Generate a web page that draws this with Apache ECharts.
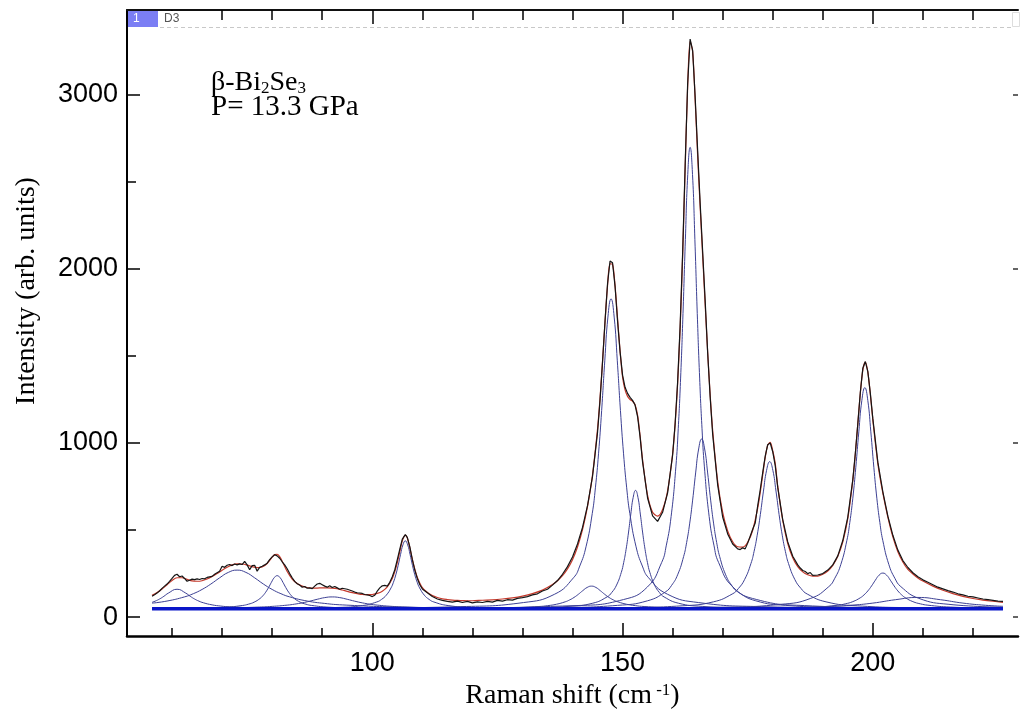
<!DOCTYPE html>
<html>
<head>
<meta charset="utf-8">
<script src="https://cdn.jsdelivr.net/npm/echarts@6/dist/echarts.min.js"></script>
<style>
  html, body { margin: 0; padding: 0; background: #fff; }
  #chart { width: 1020px; height: 715px; }
</style>
</head>
<body>
<div id="chart"></div>
<script>
// tick positions
const xMajor = [100, 150, 200];
const xMinor = [60, 70, 80, 90, 110, 120, 130, 140, 160, 170, 180, 190, 210, 220];
const yMajor = [0, 1000, 2000, 3000];
const yMinor = [500, 1500, 2500];

const measured = [[56,120],[56.5,128],[57,138],[57.5,150],[58,165],[58.5,178],[59,190],[59.5,205],[60,222],[60.5,240],[61,246],[61.5,232],[62,236],[62.5,222],[63,206],[63.5,212],[64,218],[64.5,215],[65,220],[65.5,216],[66,222],[66.5,220],[67,228],[68,234],[68.5,246],[69,255],[69.5,264],[70,292],[70.5,286],[71,298],[71.5,302],[72,296],[72.5,305],[73,300],[73.5,306],[74,302],[74.5,320],[75,300],[75.5,272],[76,296],[76.5,298],[77,264],[77.5,286],[78,292],[78.5,300],[79,310],[79.5,330],[80,346],[80.5,358],[81,352],[81.5,338],[82,318],[82.5,300],[83,278],[83.5,250],[84,226],[84.5,205],[85,192],[85.5,184],[86,172],[86.5,176],[87,166],[87.5,168],[88,164],[88.5,178],[89,190],[89.5,194],[90,186],[90.5,178],[91,172],[91.5,180],[92,170],[92.5,176],[93,168],[93.5,160],[94,166],[95,160],[96,150],[96.5,144],[97,140],[98,136],[98.5,130],[99,128],[99.5,124],[100,118],[100.5,126],[101,150],[101.5,168],[102,180],[102.5,182],[103,178],[103.5,200],[104,232],[104.5,272],[105,330],[105.5,390],[106,448],[106.6,474],[107,458],[107.5,404],[108,330],[108.5,270],[109,222],[109.5,186],[110,162],[111,140],[112,118],[113,104],[114,96],[115,90],[116,86],[117,92],[118,84],[119,90],[120,82],[121,88],[122,84],[123,90],[124,86],[125,96],[126,92],[127,100],[128,98],[129,108],[130,112],[131,118],[132,128],[133,134],[134,150],[135,160],[136,184],[137,210],[138,246],[139,290],[140,345],[141,420],[142,515],[143,640],[144,808],[145,1060],[145.5,1245],[146,1465],[146.5,1700],[147,1915],[147.5,2045],[148,2035],[148.5,1900],[149,1700],[149.5,1525],[150,1390],[150.5,1320],[151,1285],[151.5,1262],[152,1245],[152.5,1218],[153,1152],[153.5,1035],[154,892],[155,684],[156,582],[157,550],[158,602],[159,714],[160,930],[160.5,1110],[161,1350],[161.5,1670],[162,2090],[162.5,2590],[163,3060],[163.5,3320],[164,3255],[164.5,2990],[165,2680],[165.5,2380],[166,2100],[166.5,1820],[167,1520],[167.5,1265],[168,1050],[169,760],[170,575],[171,478],[172,420],[173,392],[173.5,388],[174,398],[174.5,392],[175,425],[176,505],[176.5,540],[177,640],[177.5,730],[178,830],[178.5,925],[179,990],[179.5,1000],[180,950],[180.5,870],[181,745],[182,560],[183,432],[184,350],[185,300],[185.5,282],[186,268],[186.5,262],[187,250],[187.5,256],[188,240],[189,242],[190,250],[191,270],[192,300],[193,352],[194,440],[195,575],[196,790],[196.5,940],[197,1110],[197.5,1290],[198,1430],[198.5,1468],[199,1410],[199.5,1285],[200,1140],[201,890],[202,720],[203,580],[204,470],[205,385],[206,325],[207,285],[208,255],[209,232],[210,214],[211,200],[212,186],[213,172],[214,162],[215,152],[216,144],[217,134],[218,128],[219,120],[220,116],[221,110],[222,104],[223,100],[224,96],[225,92],[226,90]];

// cumulative fit
const fitTotal = [[56,125],[57,141],[58,161],[59,186],[60,211],[61,226],[62,226],[63,217],[64,208],[65,206],[66,209],[67,219],[68,233],[69,250],[70,269],[71,286],[72,300],[73,306],[74,305],[75,299],[76,290],[77,284],[78,288],[79,308],[80,344],[80.5,359],[81,361],[81.5,347],[82,321],[83,262],[84,219],[85,193],[86,178],[87,170],[88,167],[89,167],[90,168],[91,168],[92,167],[93,163],[94,156],[95,148],[96,141],[97,135],[98,130],[99,129],[100,130],[101,136],[102,149],[103,174],[104,222],[104.5,261],[105,313],[105.5,376],[106,438],[106.6,471],[107,454],[107.5,399],[108,333],[108.5,275],[109,228],[110,169],[111,142],[112,124],[113,113],[114,105],[115,101],[116,98],[117,96],[118,95],[119,94],[120,94],[122,97],[124,99],[126,104],[128,111],[130,121],[132,135],[134,155],[136,187],[137,209],[138,238],[139,277],[140,330],[141,403],[142,502],[143,636],[144,817],[145,1080],[145.5,1258],[146,1469],[146.5,1698],[147,1904],[147.5,2029],[148,2026],[148.5,1904],[149,1717],[149.5,1530],[150,1380],[150.5,1305],[151,1268],[151.5,1250],[152,1240],[152.5,1220],[153,1160],[153.5,1043],[154,903],[155,699],[156,602],[157,580],[158,618],[159,725],[160,937],[160.5,1107],[161,1339],[161.5,1656],[162,2072],[162.5,2569],[163,3043],[163.5,3307],[164,3248],[164.5,2972],[165,2652],[165.5,2357],[166,2078],[166.5,1797],[167,1523],[167.5,1278],[168,1073],[169,780],[170,601],[171,495],[172,433],[173,404],[174,402],[175,430],[176,499],[177,626],[177.5,715],[178,817],[178.5,917],[179,988],[179.5,1004],[180,956],[180.5,883],[181,752],[182,555],[183,423],[184,341],[185,290],[186,260],[187,243],[188,235],[189,236],[190,246],[191,265],[192,297],[193,349],[194,432],[195,567],[196,787],[196.5,938],[197,1112],[197.5,1286],[198,1419],[198.5,1464],[199,1407],[199.5,1280],[200,1133],[201,882],[202,712],[203,575],[204,461],[205,376],[206,317],[207,274],[208,248],[209,225],[210,207],[212,178],[214,154],[216,135],[218,119],[220,107],[222,98],[224,91],[226,85]];

// fitted peak components
const peak61 = [[56,84.8],[56.625,91.7],[57.5,104],[58.375,119.7],[59.25,137.6],[61,160],[62.75,137.6],[63.625,119.7],[64.5,104],[65.375,91.7],[66.25,82.5],[68,70.4],[69.75,63.4],[71.5,59.2],[76.75,53.3],[85.5,50.2],[103,48.8],[130,48.3],[226,48]];
const peak73 = [[56,80.2],[59,92.4],[62.5,116.3],[64.25,134.6],[66,159],[67.75,190],[69.5,225.6],[71.25,257],[73,270],[74.75,257],[76.5,225.6],[78.25,190],[80,159],[81.75,134.6],[83.5,116.3],[87,92.4],[90.5,78.6],[94,70.2],[104.5,58.5],[122,52.4],[157,49.5],[226,48.5]];
const peak81 = [[56,49.6],[66,52.4],[71,57.6],[74.1,67],[75.25,74.2],[76.4,86],[77.55,106.5],[78.125,122.1],[78.7,143],[79.275,169.6],[79.85,200],[80.425,226.8],[81,238],[81.575,226.8],[82.15,200],[82.725,169.6],[83.3,143],[83.875,122.1],[84.45,106.5],[85.6,86],[86.75,74.2],[87.9,67],[91.35,57],[97.1,51.8],[108.6,49.3],[140,48.3],[226,48]];
const peak92 = [[56,49.8],[65,51.2],[74,54.8],[77,57.4],[80,61.6],[83,68.9],[84.5,74.5],[86,82],[87.5,91.5],[89,102.4],[90.5,112],[92,116],[93.5,112],[95,102.4],[96.5,91.5],[98,82],[99.5,74.5],[101,68.9],[104,61.6],[107,57.4],[110,54.8],[119,51.2],[134,49.4],[164,48.5],[226,48.1]];
const peak107 = [[56,48.6],[80,50],[93.3,55.8],[98.05,66.4],[100.9,87],[101.85,101.8],[102.8,126],[103.75,168],[104.225,200.2],[104.7,243],[105.175,297.6],[105.65,360],[106.125,415],[106.6,438],[107.075,415],[107.55,360],[108.025,297.6],[108.5,243],[108.975,200.2],[109.45,168],[110.4,126],[111.35,101.8],[112.3,87],[115.15,66.4],[119.9,55.8],[129.4,50.7],[150,48.75],[226,48.1]];
const peak144 = [[56,48.2],[101.8,48.9],[119.3,50.6],[128.05,54.1],[133.3,61],[135.05,65.9],[136.8,74],[138.55,88],[139.425,98.7],[140.3,113],[141.175,131.2],[142.05,152],[142.925,170.4],[143.8,178],[144.675,170.4],[145.55,152],[146.425,131.2],[147.3,113],[148.175,98.7],[149.05,88],[150.8,74],[152.55,65.9],[154.3,61],[159.55,54.1],[168.3,50.6],[185.8,48.9],[226,48.2]];
const peak148 = [[56,49.3],[97.7,52.4],[117.7,60.3],[130.2,83.6],[136.45,131.9],[140.2,226],[141.45,293.5],[142.7,404],[143.95,595.7],[144.575,742.6],[145.2,938],[145.825,1187.2],[146.45,1472],[147.075,1723.3],[147.7,1828],[148.325,1723.3],[148.95,1472],[149.575,1187.2],[150.2,938],[150.825,742.6],[151.45,595.7],[152.7,404],[153.95,293.5],[155.2,226],[158.95,131.9],[165.2,83.6],[177.7,60.3],[197.7,52.4],[226,49.8]];
const peak153 = [[56,48.3],[107,49.2],[129.8,52.7],[139.3,61.6],[144.05,80],[146.9,116],[147.85,141.8],[148.8,184],[149.75,257],[150.225,313.3],[150.7,388],[151.175,483.2],[151.65,592],[152.125,688],[152.6,728],[153.075,688],[153.55,592],[154.025,483.2],[154.5,388],[154.975,313.3],[155.45,257],[156.4,184],[157.35,141.8],[158.3,116],[161.15,80],[165.9,61.6],[175.4,52.7],[198,49.2],[226,48.5]];
const peak164 = [[56,48.8],[110,51.3],[140.7,66.3],[150.2,101],[154.95,172.8],[157.8,313],[158.75,413.4],[159.7,578],[160.65,863],[161.125,1082],[161.6,1373],[162.075,1744],[162.55,2168],[163.025,2542.2],[163.5,2698],[163.975,2542.2],[164.45,2168],[164.925,1744],[165.4,1373],[165.875,1082],[166.35,863],[167.3,578],[168.25,413.4],[169.2,313],[172.05,172.8],[176.8,101],[186.3,66.3],[205,53.6],[226,50.4]];
const peak166 = [[56,48.5],[117.8,50.4],[137,54.7],[149,67.5],[155,93.9],[158.6,145.5],[159.8,182.5],[161,243],[162.2,348],[162.8,428.4],[163.4,535.5],[164,672],[164.6,828],[165.2,965.7],[165.8,1023],[166.4,965.7],[167,828],[167.6,672],[168.2,535.5],[168.8,428.4],[169.4,348],[170.6,243],[171.8,182.5],[173,145.5],[176.6,93.9],[182.6,67.5],[194.6,54.7],[213.8,50.4],[226,49.5]];
const peak179 = [[56,48.3],[129.4,50.1],[149.4,53.8],[161.9,64.9],[168.15,87.8],[171.9,132.5],[173.15,164.5],[174.4,217],[175.65,308],[176.275,377.7],[176.9,470.5],[177.525,588.8],[178.15,724],[178.775,843.3],[179.4,893],[180.025,843.3],[180.65,724],[181.275,588.8],[181.9,470.5],[182.525,377.7],[183.15,308],[184.4,217],[185.65,164.5],[186.9,132.5],[190.65,87.8],[196.9,64.9],[209.4,53.8],[226,50.4]];
const peak198 = [[56,48.4],[150.4,51.2],[169.6,56.8],[181.6,73.4],[187.6,107.8],[191.2,175],[192.4,223.1],[193.6,302],[194.8,438.8],[195.4,543.6],[196,683],[196.6,860.8],[197.2,1064],[197.8,1243.3],[198.4,1318],[199,1243.3],[199.6,1064],[200.2,860.8],[200.8,683],[201.4,543.6],[202,438.8],[203.2,302],[204.4,223.1],[205.6,175],[209.2,107.8],[215.2,73.4],[226,57.5]];
const peak202 = [[56,48.1],[142,48.5],[166,49.4],[181,52.1],[188.5,57.7],[193,68.5],[194.5,76.3],[196,89],[197.5,111.1],[198.25,128],[199,150.5],[199.75,179.2],[200.5,212],[201.25,241],[202,253],[202.75,241],[203.5,212],[204.25,179.2],[205,150.5],[205.75,128],[206.5,111.1],[208,89],[209.5,76.3],[211,68.5],[215.5,57.7],[223,52.1],[226,51.2]];
const peak209 = [[56,48.2],[101,48.5],[146,49.3],[168.5,51.1],[182,54.5],[191,61],[195.5,68],[200,80.5],[204.5,100],[209,113],[213.5,100],[218,80.5],[222.5,68],[226,62.2]];
const baseline = [[56,48],[226,48]];

const peaks = [peak61, peak73, peak81, peak92, peak107, peak144, peak148, peak153,
  peak164, peak166, peak179, peak198, peak202, peak209];

const serif = 'Liberation Serif';
const sans = 'Liberation Sans';

let chart = echarts.init(document.getElementById('chart'), null, { renderer: 'canvas' });

const xBase = { type: 'value', min: 51, max: 229, splitLine: { show: false } };
const yBase = { type: 'value', min: -109, max: 3487, splitLine: { show: false } };
const tickStyle = { color: '#000', width: 1.5 };

let series = peaks.map(p => ({
  type: 'line', data: p, showSymbol: false, smooth: 0.5,
  lineStyle: { color: '#3d4194', width: 1 }, z: 2, silent: true
}));
series.push({
  type: 'line', data: baseline, showSymbol: false,
  lineStyle: { color: '#0a16c8', width: 3.5 }, z: 3, silent: true
});
series.push({
  type: 'line', data: fitTotal, showSymbol: false, smooth: 0.3,
  lineStyle: { color: '#c4382a', width: 1.2 }, z: 4, silent: true
});
series.push({
  type: 'line', data: measured, showSymbol: false,
  lineStyle: { color: '#151515', width: 1.2 }, z: 5, silent: true
});

const option = {
  animation: false,
  backgroundColor: '#fff',
  grid: { left: 127, right: 2, top: 10, bottom: 77 },
  xAxis: [
    Object.assign({}, xBase, {
      position: 'bottom',
      axisLine: { show: true, onZero: false, lineStyle: { color: '#000', width: 2.5 } },
      axisTick: { show: true, inside: true, length: 13, customValues: xMajor, lineStyle: tickStyle },
      axisLabel: { customValues: xMajor, fontSize: 27, color: '#000', fontFamily: sans, margin: 14, formatter: v => String(v) },
      name: '{a|Raman shift (cm}{s| -1}{a|)}',
      nameLocation: 'middle',
      nameGap: 41,
      nameTextStyle: {
        rich: {
          a: { fontSize: 28, fontFamily: serif, color: '#000' },
          s: { fontSize: 17, fontFamily: serif, color: '#000', verticalAlign: 'top' }
        }
      }
    }),
    Object.assign({}, xBase, {
      position: 'bottom',
      axisLine: { show: false, onZero: false },
      axisTick: { show: true, inside: true, length: 8, customValues: xMinor, lineStyle: tickStyle },
      axisLabel: { show: false }
    }),
    Object.assign({}, xBase, {
      position: 'top',
      axisLine: { show: true, onZero: false, lineStyle: { color: '#111', width: 2 } },
      axisTick: { show: true, inside: true, length: 14, customValues: xMajor, lineStyle: tickStyle },
      axisLabel: { show: false }
    }),
    Object.assign({}, xBase, {
      position: 'top',
      axisLine: { show: false, onZero: false },
      axisTick: { show: true, inside: true, length: 10, customValues: xMinor, lineStyle: tickStyle },
      axisLabel: { show: false }
    })
  ],
  yAxis: [
    Object.assign({}, yBase, {
      position: 'left',
      axisLine: { show: true, onZero: false, lineStyle: { color: '#000', width: 2 } },
      axisTick: { show: true, inside: true, length: 13, customValues: yMajor, lineStyle: tickStyle },
      axisLabel: { customValues: yMajor, fontSize: 27, color: '#000', fontFamily: sans, margin: 9, formatter: v => String(v) }
    }),
    Object.assign({}, yBase, {
      position: 'left',
      axisLine: { show: false, onZero: false },
      axisTick: { show: true, inside: true, length: 9, customValues: yMinor, lineStyle: tickStyle },
      axisLabel: { show: false }
    }),
    Object.assign({}, yBase, {
      position: 'right',
      axisLine: { show: false, onZero: false },
      axisTick: { show: true, inside: true, length: 5, customValues: yMajor, lineStyle: { color: '#333', width: 1.5 } },
      axisLabel: { show: false }
    })
  ],
  graphic: [
    // layer tab in the top-left corner
    { type: 'rect', shape: { x: 157, y: 11, width: 30, height: 16 }, style: { fill: '#fff' }, z: 10 },
    { type: 'rect', shape: { x: 128, y: 11, width: 30, height: 16 }, style: { fill: '#7b7ef4' }, z: 10 },
    { type: 'text', x: 133, y: 19, style: { text: '1', fill: '#fff', font: '12px "Liberation Sans"', verticalAlign: 'middle' }, z: 11 },
    { type: 'text', x: 164, y: 19, style: { text: 'D3', fill: '#555', font: '12px "Liberation Sans"', verticalAlign: 'middle' }, z: 11 },
    { type: 'line', shape: { x1: 160, y1: 27.5, x2: 1012, y2: 27.5 }, style: { stroke: '#c8c8c8', lineWidth: 1, lineDash: [4, 3] }, z: 10 },
    { type: 'rect', shape: { x: 1012.5, y: 12.5, width: 7, height: 14 }, style: { fill: 'none', stroke: '#ddd', lineWidth: 1 }, z: 10 },
    {
      type: 'text', x: 211, y: 83, z: 12,
      style: {
        text: '{a|β-Bi}{s|2}{a|Se}{s|3}', verticalAlign: 'middle',
        rich: {
          a: { fontSize: 28, fontFamily: serif, fill: '#000' },
          s: { fontSize: 17, fontFamily: serif, fill: '#000', verticalAlign: 'bottom' }
        }
      }
    },
    { type: 'text', x: 211, y: 107, z: 12, style: { text: 'P= 13.3 GPa', fill: '#000', font: '29px "Liberation Serif"', verticalAlign: 'middle' } },
    {
      type: 'text', x: 27, y: 291, rotation: Math.PI / 2, z: 12,
      style: { text: 'Intensity (arb. units)', fill: '#000', font: '28px "Liberation Serif"', align: 'center', verticalAlign: 'middle' }
    }
  ],
  series: series
};

chart.setOption(option);
</script>
</body>
</html>
